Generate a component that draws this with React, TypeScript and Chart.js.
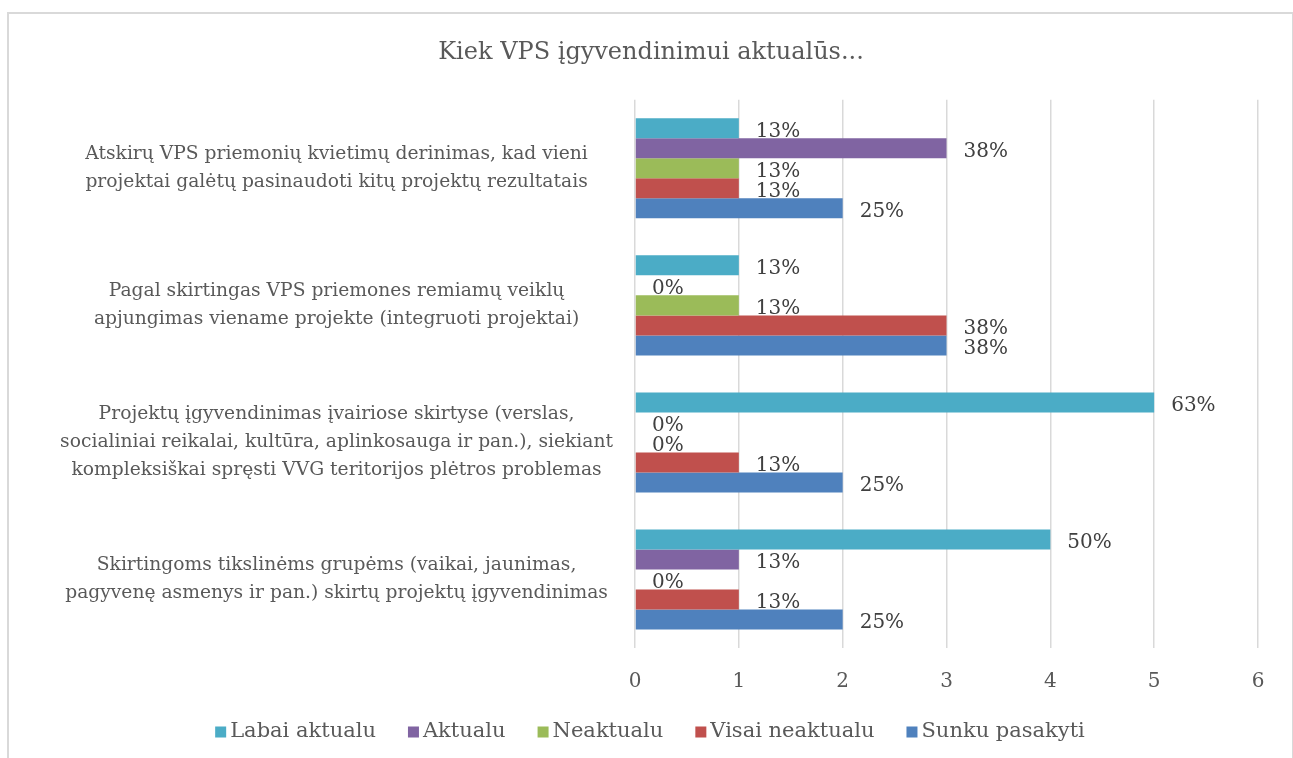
import React, { useEffect, useRef } from "react";
import { Chart, registerables } from "chart.js";

Chart.register(...registerables);

const chartTitle = "Kiek VPS įgyvendinimui aktualūs...";

const categories: string[][] = [
  ["Atskirų VPS priemonių kvietimų derinimas, kad vieni", "projektai galėtų pasinaudoti kitų projektų rezultatais"],
  ["Pagal skirtingas VPS priemones remiamų veiklų", "apjungimas viename projekte (integruoti projektai)"],
  ["Projektų įgyvendinimas įvairiose skirtyse (verslas,", "socialiniai reikalai, kultūra, aplinkosauga ir pan.), siekiant", "kompleksiškai spręsti VVG teritorijos plėtros problemas"],
  ["Skirtingoms tikslinėms grupėms (vaikai, jaunimas,", "pagyvenę asmenys ir pan.) skirtų projektų įgyvendinimas"],
];

const seriesNames = ["Labai aktualu", "Aktualu", "Neaktualu", "Visai neaktualu", "Sunku pasakyti"];
const seriesColors = ["#4BACC6", "#8064A2", "#9BBB59", "#C0504D", "#4F81BD"];

const labaiAktualu = [1, 1, 5, 4];
const aktualu = [3, 0, 0, 1];
const neaktualu = [1, 1, 0, 0];
const visaiNeaktualu = [1, 3, 1, 1];
const sunkuPasakyti = [2, 3, 2, 2];

const labaiAktualuPct = ["13%", "13%", "63%", "50%"];
const aktualuPct = ["38%", "0%", "0%", "13%"];
const neaktualuPct = ["13%", "13%", "0%", "0%"];
const visaiNeaktualuPct = ["13%", "38%", "13%", "13%"];
const sunkuPasakytiPct = ["25%", "38%", "25%", "25%"];

const xTicks = [0, 1, 2, 3, 4, 5, 6];

const FONT = "'DejaVu Serif', serif";
const PAD_L = 44;
const PAD_R = 35;

export default function App() {
  const ref = useRef<HTMLCanvasElement | null>(null);

  useEffect(() => {
    document.body.style.margin = "0";
    document.body.style.overflow = "hidden";
    document.body.style.background = "#ffffff";
    const canvas = ref.current;
    if (!canvas) return;

    const values = [labaiAktualu, aktualu, neaktualu, visaiNeaktualu, sunkuPasakyti];
    const pcts = [labaiAktualuPct, aktualuPct, neaktualuPct, visaiNeaktualuPct, sunkuPasakytiPct];

    const dataLabels = {
      id: "dataLabels",
      afterDatasetsDraw(chart: any) {
        const ctx = chart.ctx;
        ctx.save();
        ctx.font = `20px ${FONT}`;
        ctx.fillStyle = "#404040";
        ctx.textAlign = "left";
        ctx.textBaseline = "middle";
        chart.data.datasets.forEach((ds: any, di: number) => {
          const meta = chart.getDatasetMeta(di);
          meta.data.forEach((el: any, i: number) => {
            ctx.fillText(ds.pctLabels[i], el.x + 17, el.y + 3);
          });
        });
        ctx.restore();
      },
    };

    const customLegend = {
      id: "customLegend",
      afterDraw(chart: any) {
        const ctx = chart.ctx;
        ctx.save();
        ctx.font = `21px ${FONT}`;
        ctx.textBaseline = "middle";
        ctx.textAlign = "left";
        const box = 11;
        const gap = 4;
        const itemGap = 32;
        const items = chart.data.datasets.map((ds: any) => ({
          label: ds.label,
          color: ds.backgroundColor,
          w: ctx.measureText(ds.label).width,
        }));
        const total =
          items.reduce((s: number, it: any) => s + box + gap + it.w, 0) + itemGap * (items.length - 1);
        let x = 650 - total / 2;
        const y = 732;
        items.forEach((it: any) => {
          ctx.fillStyle = it.color;
          ctx.fillRect(x, y - 5.5, box, box);
          ctx.fillStyle = "#595959";
          ctx.fillText(it.label, x + box + gap, y);
          x += box + gap + it.w + itemGap;
        });
        ctx.restore();
      },
    };

    const chart = new Chart(canvas, {
      type: "bar",
      data: {
        labels: categories,
        datasets: seriesNames.map((name, i) => ({
          label: name,
          data: values[i],
          pctLabels: pcts[i],
          backgroundColor: seriesColors[i],
          borderWidth: 0,
          categoryPercentage: 0.73,
          barPercentage: 1,
        })) as any,
      },
      options: {
        indexAxis: "y",
        animation: false,
        responsive: false,
        devicePixelRatio: 1,
        layout: { padding: { left: PAD_L, right: PAD_R, top: 0, bottom: 0 } },
        plugins: {
          title: {
            display: true,
            text: chartTitle,
            color: "#595959",
            font: { family: FONT, size: 24, weight: "normal" as any, lineHeight: 1.2 },
            padding: { top: 38, bottom: 33 },
          },
          legend: { display: false },
          tooltip: { enabled: false },
        },
        scales: {
          x: {
            min: 0,
            max: 6,
            afterBuildTicks: (s: any) => {
              s.ticks = xTicks.map((v) => ({ value: v }));
            },
            afterFit: (s: any) => {
              s.paddingLeft = 0;
              s.paddingRight = 0;
              s.height = 110;
            },
            grid: { color: "#d9d9d9", lineWidth: 1.5, drawTicks: false },
            border: { display: false },
            ticks: { color: "#595959", font: { family: FONT, size: 20, lineHeight: 1.2 }, padding: 22 },
          },
          y: {
            afterFit: (s: any) => {
              s.width = 635 - PAD_L;
              s.paddingTop = 0;
              s.paddingBottom = 0;
            },
            grid: { display: false, drawTicks: false },
            border: { display: false },
            ticks: {
              color: "#595959",
              font: { family: FONT, size: 18.7, lineHeight: 1.5 },
              crossAlign: "center",
              padding: 22,
              autoSkip: false,
            },
          },
        },
      } as any,
      plugins: [dataLabels, customLegend],
    });

    return () => chart.destroy();
  }, []);

  return (
    <>
      <canvas
        ref={ref}
        width={1293}
        height={758}
        style={{ position: "fixed", left: 0, top: 0, width: 1293, height: 758 }}
      />
      <div
        style={{
          position: "fixed",
          left: 7,
          top: 12,
          width: 1283,
          height: 800,
          border: "2px solid #d9d9d9",
          pointerEvents: "none",
        }}
      />
    </>
  );
}
